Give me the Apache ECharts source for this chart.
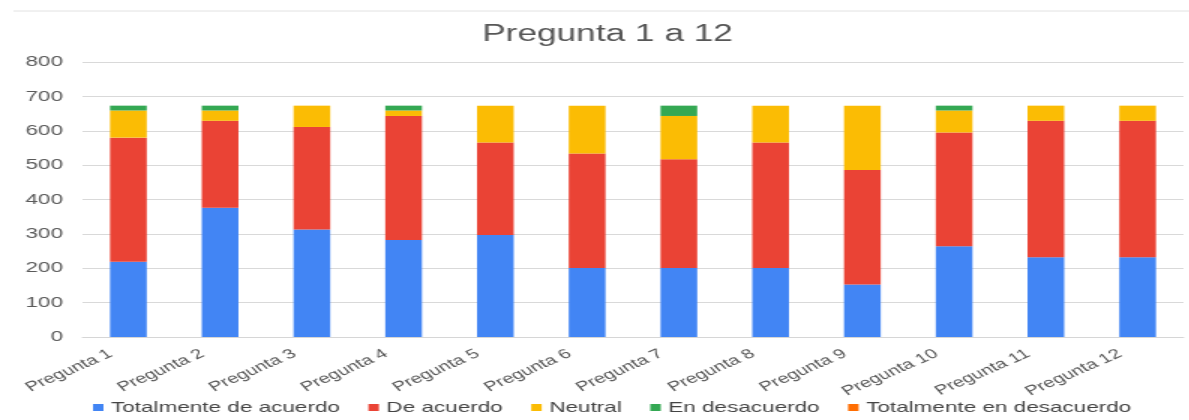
<!DOCTYPE html>
<html>
<head>
<meta charset="utf-8">
<script src="https://cdn.jsdelivr.net/npm/echarts@6/dist/echarts.min.js"></script>
<style>
  html, body { margin: 0; padding: 0; background: #fff; overflow: hidden; }
  /* the chart is laid out narrow and widened horizontally */
  #chart { width: 793px; height: 420px; transform: scaleX(1.5); transform-origin: 0 0; }
</style>
</head>
<body>
<div id="chart"></div>
<script>
const categories = ['Pregunta 1', 'Pregunta 2', 'Pregunta 3', 'Pregunta 4', 'Pregunta 5', 'Pregunta 6',
                    'Pregunta 7', 'Pregunta 8', 'Pregunta 9', 'Pregunta 10', 'Pregunta 11', 'Pregunta 12'];
const totalmenteDeAcuerdo   = [219, 376, 313, 282, 297, 201, 201, 201, 153, 264, 232, 232];
const deAcuerdo             = [361, 253, 298, 361, 269, 333, 316, 365, 333, 331, 397, 397];
const neutral               = [79, 30, 62, 16, 107, 139, 126, 107, 187, 64, 44, 44];
const enDesacuerdo          = [14, 14, 0, 14, 0, 0, 30, 0, 0, 14, 0, 0];
const totalmenteDesacuerdo  = [0, 0, 0, 0, 0, 0, 0, 0, 0, 0, 0, 0];
const yTicks = [0, 100, 200, 300, 400, 500, 600, 700, 800];

const seriesDefs = [
  { name: 'Totalmente de acuerdo', data: totalmenteDeAcuerdo, color: '#4285F4' },
  { name: 'De acuerdo', data: deAcuerdo, color: '#EA4335' },
  { name: 'Neutral', data: neutral, color: '#FBBC04' },
  { name: 'En desacuerdo', data: enDesacuerdo, color: '#34A853' },
  { name: 'Totalmente en desacuerdo', data: totalmenteDesacuerdo, color: '#FF6D01' }
];

const font = '"Liberation Sans", Arial, sans-serif';
const chart = echarts.init(document.getElementById('chart'));

chart.setOption({
  animation: false,
  textStyle: { fontFamily: font },
  title: {
    text: 'Pregunta 1 a 12',
    left: 400,
    textAlign: 'center',
    top: 18,
    textStyle: { fontFamily: font, fontSize: 23.5, fontWeight: 'normal', color: '#575757' }
  },
  graphic: [{
    type: 'line',
    shape: { x1: 9, y1: 11, x2: 793, y2: 11 },
    style: { stroke: '#e2e2e2', lineWidth: 1 }
  }],
  legend: {
    bottom: 0,
    left: 57,
    padding: 5,
    itemWidth: 7,
    itemHeight: 7,
    itemGap: 19,
    icon: 'rect',
    textStyle: { fontFamily: font, fontSize: 15, color: '#444' },
    data: seriesDefs.map(s => s.name)
  },
  grid: { left: 55, right: 4, top: 62, bottom: 83, containLabel: false },
  xAxis: {
    type: 'category',
    data: categories,
    axisTick: { show: false },
    axisLine: { lineStyle: { color: '#d6d6d6' } },
    axisLabel: { rotate: 33, margin: 8, padding: [0, 14, 0, 0], fontSize: 13.5, color: '#555', fontFamily: font, interval: 0 }
  },
  yAxis: {
    type: 'value',
    min: yTicks[0],
    max: yTicks[yTicks.length - 1],
    interval: yTicks[1] - yTicks[0],
    axisLine: { show: false },
    axisTick: { show: false },
    axisLabel: { fontSize: 15, color: '#5a5a5a', fontFamily: font, margin: 13 },
    splitLine: { lineStyle: { color: '#d9d9d9' } }
  },
  series: seriesDefs.map(s => ({
    name: s.name,
    type: 'bar',
    stack: 'total',
    barWidth: '40%',
    data: s.data,
    itemStyle: { color: s.color }
  }))
});
</script>
</body>
</html>
